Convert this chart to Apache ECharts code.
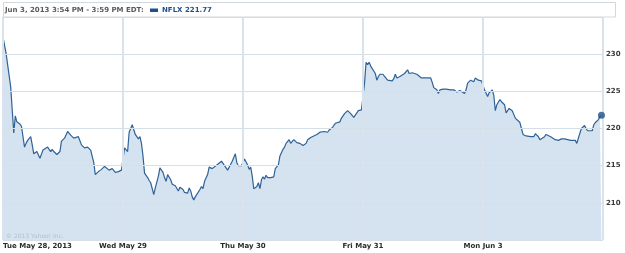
<!DOCTYPE html>
<html><head><meta charset="utf-8">
<script src="https://cdn.jsdelivr.net/npm/echarts@6/dist/echarts.min.js"></script>
<style>html,body{margin:0;padding:0;background:#fff}#c{width:625px;height:253px}</style>
</head><body><div id="c"></div>
<script>
// Tick labels for each trading day (390 trading minutes per day)
var dayLabels = ['Tue May 28, 2013', 'Wed May 29', 'Thu May 30', 'Fri May 31', 'Mon Jun 3'];
var yTicks = [210, 215, 220, 225, 230];

// Minutes since 9:30 open, and NFLX price, per day
var d1T = [0,10,25,30,35,40,45,50,55,60,70,75,80,90,95,100,110,120,130,135,145,155,160,165,175,185,190,200,205,210,220,230,235,245,255,260,265,275,285,290,295,300,310,320,330,335,345,355,360,365,375,380,385];
var d1P = [232.3,230.1,225.6,222.5,219.4,221.7,220.9,220.8,220.6,220.3,217.5,218.0,218.4,218.9,217.8,216.6,216.9,216.0,217.1,217.3,217.5,216.9,217.2,216.9,216.5,216.9,218.3,218.7,218.5,219.6,219.1,218.7,218.7,218.9,217.8,217.6,217.4,217.5,217.1,216.9,215.4,213.8,214.2,214.5,214.9,214.9,214.4,214.6,214.7,214.1,214.2,214.4,214.4];
var d2T = [5,15,20,25,30,40,45,50,55,60,65,70,80,85,90,100,105,115,120,130,135,140,145,155,160,170,175,180,185,195,200,210,215,220,225,230,235,240,250,255,260,265,275,280,290,295,305,310,320,325,335,340,345,355,365,370,375,385];
var d2P = [217.4,216.9,219.5,219.7,220.5,219.2,219.4,218.6,218.9,218.0,216.3,214.0,213.4,213.0,212.7,211.1,212.0,213.6,214.7,214.1,213.4,212.9,213.8,213.1,212.5,212.3,212.3,211.6,212.1,211.8,211.4,211.3,212.0,211.6,210.8,210.4,210.8,210.7,211.8,212.2,211.9,212.9,213.8,214.8,214.6,214.7,215.1,215.3,215.6,215.5,214.7,214.4,214.8,215.6,216.6,215.4,215.0,215.0];
var d3T = [5,15,20,25,30,35,45,50,55,60,65,70,75,80,90,100,105,115,120,130,135,140,150,155,165,170,175,185,195,205,210,220,230,240,250,255,265,275,280,290,300,305,315,320,330,340,345,350,360,365,375,380,385];
var d3P = [215.9,215.1,214.5,214.8,213.6,211.9,212.2,212.7,211.9,213.1,213.5,213.2,213.7,213.4,213.4,213.5,214.6,215.1,216.3,217.2,217.5,218.0,218.5,218.0,218.5,218.7,218.1,218.0,217.7,218.0,218.5,218.8,219.0,219.2,219.5,219.4,219.6,219.5,219.8,220.1,220.7,220.6,220.9,221.4,222.0,222.4,222.5,222.0,221.5,221.6,222.4,222.6,222.5];
var d4T = [5,10,15,20,25,30,40,45,50,55,65,70,80,85,95,100,105,110,120,125,135,140,145,150,160,165,175,180,190,195,205,210,220,225,230,235,240,245,250,260,270,275,285,295,300,305,315,320,330,335,340,350,355,360,365,375,380,385];
var d4P = [226.1,228.9,228.6,228.9,228.4,228.6,227.4,226.5,227.0,227.3,227.3,227.0,226.5,226.4,226.4,226.7,227.3,226.8,227.0,227.2,227.4,227.4,227.9,227.4,227.5,227.4,227.3,227.1,226.8,226.7,226.8,226.7,226.8,226.2,225.5,225.4,225.2,224.7,225.2,225.3,225.3,225.2,225.2,225.2,225.1,224.9,225.1,224.9,224.7,225.2,226.1,226.5,226.7,226.3,226.8,226.5,226.6,226.4];
var d5T = [5,10,15,20,30,35,40,45,55,60,70,75,80,85,95,100,105,110,120,125,130,140,145,155,160,165,170,180,185,190,200,205,210,220,225,235,240,245,255,260,265,275,280,285,290,300,305,310,315,320,330,335,340,345,355,360,365,370,375,380,385];
var d5P = [225.2,225.1,224.3,224.8,225.2,224.5,222.4,223.2,223.9,223.6,223.2,222.1,222.4,222.7,222.4,221.9,221.4,221.4,220.8,220.0,219.2,219.0,219.2,218.9,218.7,218.9,219.3,218.9,218.5,218.3,218.9,219.2,219.0,218.9,218.7,218.5,218.6,218.4,218.6,218.4,218.6,218.5,218.7,218.4,218.3,218.4,218.0,218.7,219.4,220.0,220.4,220.0,219.7,219.6,219.7,220.5,220.8,220.7,221.2,221.6,221.77];

var DAY = 390;
var days = [[d1T, d1P], [d2T, d2P], [d3T, d3P], [d4T, d4P], [d5T, d5P]];
var data = [];
days.forEach(function (d, i) {
  d[0].forEach(function (t, j) { data.push([i * DAY + t, d[1][j]]); });
});
var last = data[data.length - 1];

var F = 'DejaVu Sans';
var chart = echarts.init(document.getElementById('c'), null, {renderer: 'canvas'});
chart.setOption({
  animation: false,
  grid: {left: 3, right: 22, top: 17, bottom: 13},
  xAxis: {
    type: 'value', min: 0, max: DAY * 5, interval: DAY, z: 3,
    axisLine: {show: false}, axisTick: {show: false},
    splitLine: {show: true, lineStyle: {color: '#dae3eb', width: 2}},
    axisLabel: {
      margin: 3, fontFamily: F, fontWeight: 'bold', fontSize: 7, color: '#2a2a2a',
      showMaxLabel: false, alignMinLabel: 'left',
      formatter: function (v) { return dayLabels[Math.round(v / DAY)] || ''; }
    }
  },
  yAxis: {
    type: 'value', position: 'right', min: 205, max: 235, interval: 5, z: 3,
    axisLine: {show: false}, axisTick: {show: false},
    splitLine: {show: true, lineStyle: {color: '#d5dfe8', width: 1}},
    axisLabel: {
      margin: 3, fontFamily: F, fontWeight: 'bold', fontSize: 7, color: '#3a3a3a',
      showMinLabel: false, showMaxLabel: false,
      formatter: function (v) { return yTicks.indexOf(v) >= 0 ? String(v) : ''; }
    }
  },
  series: [{
    type: 'line', data: data, showSymbol: false, z: 2,
    lineStyle: {color: '#2f6297', width: 1.2},
    areaStyle: {color: '#d4e3ef', opacity: 1},
    silent: true
  }, {
    type: 'scatter', data: [last], symbol: 'circle', symbolSize: 7, z: 4,
    itemStyle: {color: '#1f5089'}, silent: true
  }],
  graphic: [
    {type: 'rect', shape: {x: 3.5, y: 2.5, width: 612, height: 14.5}, style: {fill: '#fff', stroke: '#d3d8dc', lineWidth: 1}, z: 10},
    {type: 'text', x: 5, y: 10, style: {text: 'Jun 3, 2013 3:54 PM - 3:59 PM EDT:', font: 'bold 7px "DejaVu Sans"', fill: '#5a5a5a', verticalAlign: 'middle'}, z: 11},
    {type: 'rect', shape: {x: 150, y: 8.5, width: 8, height: 3.5}, style: {fill: '#1f5089'}, z: 11},
    {type: 'text', x: 162, y: 10, style: {text: 'NFLX ' + last[1].toFixed(2), font: 'bold 7px "DejaVu Sans"', fill: '#1f5089', verticalAlign: 'middle'}, z: 11},
    {type: 'text', x: 6, y: 236, style: {text: '\u00a9 2013 Yahoo! Inc.', font: '6px "DejaVu Sans"', fill: '#b3c0cb', verticalAlign: 'middle'}, z: 11}
  ]
});
</script></body></html>
